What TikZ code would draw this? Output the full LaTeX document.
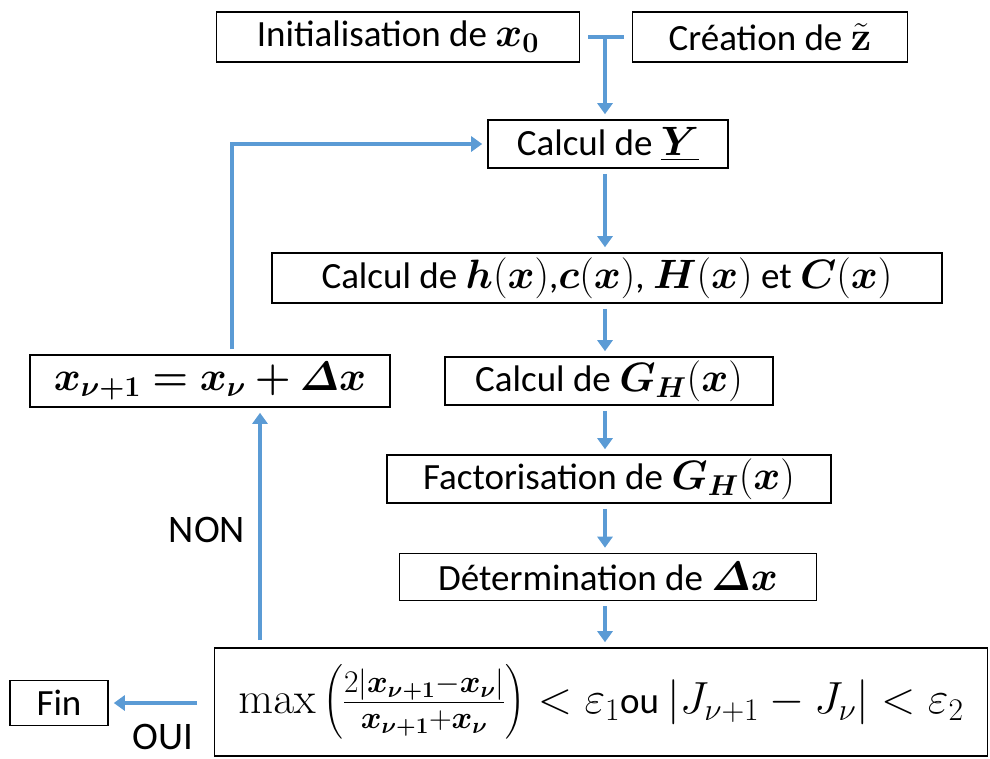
\RequirePackage{fix-cm}
\documentclass[tikz,border=0pt]{standalone}
\usepackage{amsmath}
\usepackage{bm}
\usepackage[no-math]{fontspec}
\setmainfont{Carlito}
\usetikzlibrary{arrows.meta}
\definecolor{flux}{RGB}{91,155,213}
% maths a bit larger than the text, as in the original figure
\newcommand{\formule}[2][41]{{\fontsize{#1}{44}\selectfont$#2$}}
\tikzset{
  etape/.style = {draw=black, line width=1.6pt, align=center, inner sep=2pt,
                  minimum height=48pt, font=\fontsize{37}{40}\selectfont},
  lien/.style  = {draw=flux, line width=3.5pt},
  fleche/.style = {lien, -{Triangle[length=11pt,width=15pt]},
                   shorten <=5pt, shorten >=5pt},
  etiq/.style  = {font=\fontsize{39}{42}\selectfont, inner sep=0pt},
}

\begin{document}
\begin{tikzpicture}[x=1pt, y=-1pt]
    \useasboundingbox (0,0) rectangle (990,758);

    \node[etape, minimum width=363pt, minimum height=50pt] (init) at (398, 37)
        {Initialisation de \formule{\bm{x_0}}};
    \node[etape, minimum width=275pt, minimum height=50pt] (crea) at (770, 37)
        {Création de \formule{\tilde{\mathbf{z}}}};
    \node[etape, minimum width=240pt] (calY) at (608, 144)
        {Calcul de \formule{\underline{\bm{Y}}}};
    \node[etape, minimum width=670pt, minimum height=50pt] (hc) at (607, 278)
        {Calcul de \formule{\bm{h}(\bm{x})},\formule{\bm{c}(\bm{x})}, \formule{\bm{H}(\bm{x})} et \formule{\bm{C}(\bm{x})}};
    \node[etape, minimum width=328pt] (gh) at (609, 381)
        {Calcul de \formule{\bm{G_H}(\bm{x})}};
    \node[etape, minimum width=444pt] (fact) at (609, 479)
        {Factorisation de \formule{\bm{G_H}(\bm{x})}};
    \node[etape, minimum width=417pt, minimum height=47pt] (det) at (608, 577)
        {Détermination de \formule{\bm{\varDelta x}}};
    \node[etape, minimum width=773pt, minimum height=108pt] (cond) at (601, 702)
        {\formule[45]{\max\left(\frac{2|\bm{x_{\nu+1}}{-}\bm{x_\nu}|}{\bm{x_{\nu+1}}{+}\bm{x_\nu}}\right)
          < \varepsilon_1}ou \formule[45]{|J_{\nu+1}-J_\nu| < \varepsilon_2}};
    \node[etape, minimum width=360pt, minimum height=52pt] (maj) at (210, 381)
        {\formule{\bm{x_{\nu+1} = x_\nu + \varDelta x}}};
    \node[etape, minimum width=98pt, minimum height=45pt] (fin) at (59, 703) {Fin};

    \node[etiq] (non) at (207, 530) {NON};
    \node[etiq] (oui) at (163, 737) {OUI};

    \coordinate (axe) at (605, 0);
    \coordinate (boucle) at (260, 640);
    \coordinate (sortie) at (197, 703);

    \draw[lien, shorten <=8pt, shorten >=8pt] (init.east) -- (crea.west);
    \draw[fleche, shorten <=0pt] (init.east -| axe) -- (calY.north -| axe);
    \draw[fleche] (calY.south -| axe) -- (hc.north -| axe);
    \draw[fleche] (hc.south -| axe) -- (gh.north -| axe);
    \draw[fleche] (gh.south -| axe) -- (fact.north -| axe);
    \draw[fleche] (fact.south -| axe) -- (det.north -| axe);
    \draw[fleche] (det.south -| axe) -- (cond.north -| axe);
    \draw[fleche, shorten <=0pt] (sortie) -- (fin.east);
    \draw[fleche, shorten <=0pt] (boucle) -- (boucle |- maj.south);
    \draw[fleche] ([xshift=22pt]maj.north) |- (calY.west);
\end{tikzpicture}
\end{document}
